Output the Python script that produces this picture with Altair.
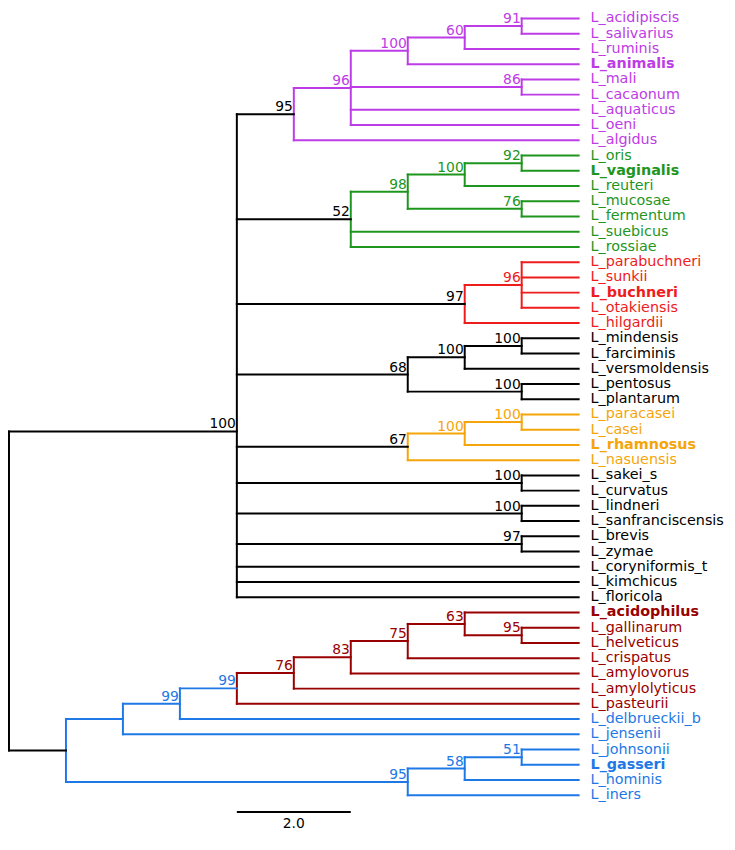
import altair as alt
import pandas as pd

# ---------------- data ----------------
node_ids = ["root", "core", "P95", "P96", "P100", "P60", "P91", "P86",
            "G52", "G98", "G100", "G92", "G76", "R97", "R96",
            "K68", "K100a", "K100b", "K100c", "O67", "O100a", "O100b",
            "S100", "L100", "B97", "Broot", "Bj", "B99",
            "D99", "D76", "D83", "D75", "D63", "D95", "B95", "B58", "B51"]
node_parent = [None, "root", "core", "P95", "P96", "P100", "P60", "P96",
               "core", "G52", "G98", "G100", "G98", "core", "R97",
               "core", "K68", "K100a", "K68", "core", "O67", "O100a",
               "core", "core", "core", "root", "Broot", "Bj",
               "B99", "D99", "D76", "D83", "D75", "D63", "Broot", "B95", "B58"]
node_depth = [0, 4, 5, 6, 7, 8, 9, 9,
              6, 7, 8, 9, 9, 8, 9,
              7, 8, 9, 9, 7, 8, 9,
              9, 9, 9, 1, 2, 3,
              4, 5, 6, 7, 8, 9, 7, 8, 9]
node_support = ["", "100", "95", "96", "100", "60", "91", "86",
                "52", "98", "100", "92", "76", "97", "96",
                "68", "100", "100", "100", "67", "100", "100",
                "100", "100", "97", "", "", "99",
                "99", "76", "83", "75", "63", "95", "95", "58", "51"]
node_clade = ["black", "black", "purple", "purple", "purple", "purple", "purple", "purple",
              "green", "green", "green", "green", "green", "red", "red",
              "black", "black", "black", "black", "orange", "orange", "orange",
              "black", "black", "black", "blue", "blue", "blue",
              "darkred", "darkred", "darkred", "darkred", "darkred", "darkred",
              "blue", "blue", "blue"]
mean_nodes = ["core"]

leaf_names = ["L_acidipiscis", "L_salivarius", "L_ruminis", "L_animalis", "L_mali",
              "L_cacaonum", "L_aquaticus", "L_oeni", "L_algidus",
              "L_oris", "L_vaginalis", "L_reuteri", "L_mucosae", "L_fermentum",
              "L_suebicus", "L_rossiae",
              "L_parabuchneri", "L_sunkii", "L_buchneri", "L_otakiensis", "L_hilgardii",
              "L_mindensis", "L_farciminis", "L_versmoldensis", "L_pentosus", "L_plantarum",
              "L_paracasei", "L_casei", "L_rhamnosus", "L_nasuensis",
              "L_sakei_s", "L_curvatus", "L_lindneri", "L_sanfranciscensis", "L_brevis",
              "L_zymae", "L_coryniformis_t", "L_kimchicus", "L_floricola",
              "L_acidophilus", "L_gallinarum", "L_helveticus", "L_crispatus",
              "L_amylovorus", "L_amylolyticus", "L_pasteurii",
              "L_delbrueckii_b", "L_jensenii", "L_johnsonii", "L_gasseri",
              "L_hominis", "L_iners"]
leaf_parent = ["P91", "P91", "P60", "P100", "P86", "P86", "P96", "P96", "P95",
               "G92", "G92", "G100", "G76", "G76", "G52", "G52",
               "R96", "R96", "R96", "R96", "R97",
               "K100b", "K100b", "K100a", "K100c", "K100c",
               "O100b", "O100b", "O100a", "O67",
               "S100", "S100", "L100", "L100", "B97", "B97", "core", "core", "core",
               "D63", "D95", "D95", "D75", "D83", "D76", "D99",
               "B99", "Bj", "B51", "B51", "B58", "B95"]
bold_leaves = ["L_animalis", "L_vaginalis", "L_buchneri", "L_rhamnosus",
               "L_acidophilus", "L_gasseri"]
tip_depth = 10
scale_bar_len = 2.0

palette = {"black": "#000000", "purple": "#BE3CE6", "green": "#1E961E",
           "red": "#EE1C1C", "orange": "#F5A50A", "darkred": "#990000",
           "blue": "#1E78E6"}

# ---------------- tree layout ----------------
depth = dict(zip(node_ids, node_depth))
parent = dict(zip(node_ids, node_parent))
color = {n: palette[c] for n, c in zip(node_ids, node_clade)}
children = {n: [] for n in node_ids}
for n, p in zip(node_ids, node_parent):
    if p is not None:
        children[p].append(("node", n))
for i, (l, p) in enumerate(zip(leaf_names, leaf_parent)):
    children[p].append(("leaf", i))

ypos = {}


def node_y(n):
    if n in ypos:
        return ypos[n]
    ys = [float(c) if k == "leaf" else node_y(c) for k, c in children[n]]
    if n in mean_nodes:
        y = sum(ys) / len(ys)
    else:
        y = (min(ys) + max(ys)) / 2
    ypos[n] = y
    return y


for n in node_ids:
    node_y(n)

segs = []
for n in node_ids:
    ys = [float(c) if k == "leaf" else ypos[c] for k, c in children[n]]
    segs.append(dict(x=depth[n], x2=depth[n], y=min(ys), y2=max(ys), color=color[n]))
    if parent[n] is not None:
        segs.append(dict(x=depth[parent[n]], x2=depth[n], y=ypos[n], y2=ypos[n],
                         color=color[parent[n]]))
for i, (l, p) in enumerate(zip(leaf_names, leaf_parent)):
    segs.append(dict(x=depth[p], x2=tip_depth, y=i, y2=i, color=color[p]))
seg_df = pd.DataFrame(segs)

sup_df = pd.DataFrame([dict(x=depth[n], y=ypos[n], label=s, color=color[parent[n]])
                       for n, s in zip(node_ids, node_support) if s])
leaf_df = pd.DataFrame([dict(x=tip_depth, y=i, label=l, color=color[p],
                             bold=l in bold_leaves)
                        for i, (l, p) in enumerate(zip(leaf_names, leaf_parent))])
last = len(leaf_names) - 1
bar_y = last + 1.1
bar_df = pd.DataFrame([dict(x=4, x2=4 + scale_bar_len, y=bar_y, y2=bar_y,
                            label=f"{scale_bar_len:.1f}", xm=4 + scale_bar_len / 2,
                            yt=bar_y + 1.05)])

# ---------------- chart ----------------
xs = alt.Scale(domain=[0, tip_depth], range=[1, 577])
ys = alt.Scale(domain=[0, last], range=[6, 6 + 15.4 * last])
FONT = "DejaVu Sans"

rules = alt.Chart(seg_df).mark_rule(strokeWidth=2, strokeCap="square").encode(
    x=alt.X("x:Q", scale=xs, axis=None),
    x2="x2:Q",
    y=alt.Y("y:Q", scale=ys, axis=None),
    y2="y2:Q",
    color=alt.Color("color:N", scale=None),
)

sup = alt.Chart(sup_df).mark_text(align="right", baseline="alphabetic", dx=-1, dy=-3,
                                  font=FONT, fontSize=14).encode(
    x=alt.X("x:Q", scale=xs, axis=None),
    y=alt.Y("y:Q", scale=ys, axis=None),
    text="label:N",
    color=alt.Color("color:N", scale=None),
)

leaf_base = alt.Chart(leaf_df).encode(
    x=alt.X("x:Q", scale=xs, axis=None),
    y=alt.Y("y:Q", scale=ys, axis=None),
    text="label:N",
    color=alt.Color("color:N", scale=None),
)
leaf_norm = leaf_base.transform_filter("!datum.bold").mark_text(
    align="left", baseline="middle", dx=12, font=FONT, fontSize=14.5)
leaf_bold = leaf_base.transform_filter("datum.bold").mark_text(
    align="left", baseline="middle", dx=12, font=FONT, fontSize=14.5, fontWeight="bold")

bar = alt.Chart(bar_df).mark_rule(strokeWidth=2, color="black").encode(
    x=alt.X("x:Q", scale=xs, axis=None), x2="x2:Q",
    y=alt.Y("y:Q", scale=ys, axis=None), y2="y2:Q",
)
bar_text = alt.Chart(bar_df).mark_text(align="center", baseline="alphabetic",
                                       font=FONT, fontSize=14, color="black").encode(
    x=alt.X("xm:Q", scale=xs, axis=None),
    y=alt.Y("yt:Q", scale=ys, axis=None),
    text="label:N",
)

chart = alt.layer(rules, sup, leaf_norm, leaf_bold, bar, bar_text).properties(
    width=727, height=826, padding=0,
    autosize=alt.AutoSizeParams(type="none"),
).configure_view(stroke=None)

chart.save("out.html", embed_options={"renderer": "svg", "actions": False})
